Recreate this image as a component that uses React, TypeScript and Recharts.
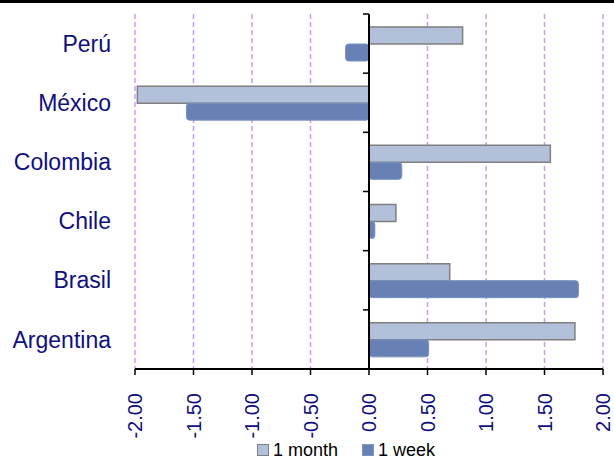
import React from 'react';
import {
  BarChart,
  Bar,
  XAxis,
  YAxis,
  CartesianGrid,
  ReferenceLine
} from 'recharts';

const countries = ['Perú', 'México', 'Colombia', 'Chile', 'Brasil', 'Argentina'];
const oneMonth = [0.8, -1.98, 1.55, 0.23, 0.69, 1.76];
const oneWeek = [-0.2, -1.56, 0.28, 0.05, 1.79, 0.51];
const xTicks = [-2, -1.5, -1, -0.5, 0, 0.5, 1, 1.5, 2];

const series = [
  { key: 'month', name: '1 month', fill: '#B3C0D9', stroke: '#7F7F7F' },
  { key: 'week', name: '1 week', fill: '#6781B4', stroke: '#7A92C0' }
];

const data = countries.map((name, i) => ({
  name,
  month: oneMonth[i],
  week: oneWeek[i]
}));

const FONT = '"Liberation Sans", Arial, sans-serif';
const NAVY = '#0F0F80';

const XTick = (props: any) => {
  const { x, y, payload } = props;
  const ty = y + 18;
  return (
    <text
      x={x}
      y={ty}
      transform={`rotate(-90, ${x}, ${ty})`}
      textAnchor="end"
      dominantBaseline="central"
      fill={NAVY}
      fontSize={20}
      fontFamily={FONT}
    >
      {Number(payload.value).toFixed(2)}
    </text>
  );
};

// zero axis with a small tick at every category boundary
const ZeroAxis = (props: any) => {
  const { x1, y1, x2, y2 } = props;
  const n = countries.length;
  const marks = Array.from({ length: n + 1 }, (_, i) => y1 + ((y2 - y1) * i) / n);
  return (
    <g>
      <line x1={x1} y1={y1} x2={x2} y2={y2} stroke="#000" strokeWidth={2} />
      {marks.map((my, i) => (
        <line key={i} x1={x1 - 6} y1={my} x2={x1} y2={my} stroke="#000" strokeWidth={1.5} />
      ))}
    </g>
  );
};

export default function App() {
  return (
    <div style={{ position: 'absolute', left: 0, top: 0, width: 614, height: 457, background: '#fff', overflow: 'hidden' }}>
      <div style={{ position: 'absolute', left: 0, top: 0, width: 614, height: 3, background: '#000' }} />
      <BarChart
        width={614}
        height={457}
        data={data}
        layout="vertical"
        margin={{ top: 14, right: 11, bottom: 0, left: 0 }}
        barSize={17}
        barGap={0}
      >
        <CartesianGrid horizontal={false} stroke="#CC99FF" strokeWidth={1.5} strokeDasharray="5 3" />
        <XAxis
          type="number"
          domain={[-2, 2]}
          ticks={xTicks}
          height={88}
          interval={0}
          tick={<XTick />}
          tickSize={6}
          tickMargin={0}
          axisLine={{ stroke: '#000', strokeWidth: 2 }}
          tickLine={{ stroke: '#000', strokeWidth: 1.5 }}
        />
        <YAxis
          type="category"
          dataKey="name"
          width={135}
          axisLine={false}
          tickLine={false}
          tickSize={0}
          tickMargin={24}
          tick={{ fill: NAVY, fontSize: 23, fontFamily: FONT }}
        />
        <Bar
          dataKey="month"
          name="1 month"
          fill={series[0].fill}
          stroke={series[0].stroke}
          strokeWidth={1.5}
          isAnimationActive={false}
        />
        <Bar
          dataKey="week"
          name="1 week"
          fill={series[1].fill}
          stroke={series[1].stroke}
          strokeWidth={1}
          radius={3}
          isAnimationActive={false}
        />
        <ReferenceLine x={0} stroke="#000" shape={<ZeroAxis />} />
      </BarChart>
      <div
        style={{
          position: 'absolute',
          left: 257,
          top: 440,
          display: 'flex',
          alignItems: 'center',
          fontFamily: FONT,
          fontSize: 18,
          lineHeight: '20px',
          color: '#000',
          whiteSpace: 'nowrap'
        }}
      >
        {series.map((s, i) => (
          <div key={s.key} style={{ display: 'flex', alignItems: 'center', marginRight: i === 0 ? 24 : 0 }}>
            <span
              style={{
                display: 'inline-block',
                width: 10,
                height: 10,
                background: s.fill,
                border: `1px solid ${s.stroke}`,
                marginRight: 4
              }}
            />
            <span>{s.name}</span>
          </div>
        ))}
      </div>
    </div>
  );
}
